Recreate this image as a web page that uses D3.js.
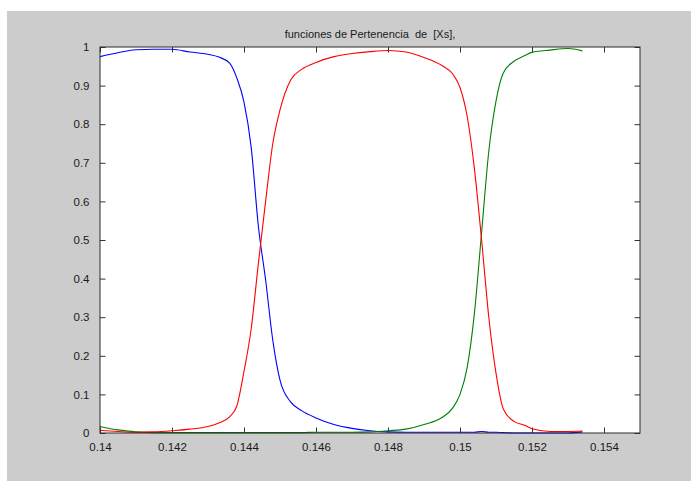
<!DOCTYPE html>
<html>
<head>
<meta charset="utf-8">
<script src="https://cdn.jsdelivr.net/npm/d3@7"></script>
<style>
  html, body { margin: 0; padding: 0; background: #ffffff; }
  svg { display: block; }
  .tick text { font-family: "Liberation Sans", Arial, sans-serif; font-size: 11.5px; fill: #1a1a1a; }
</style>
</head>
<body>
<svg id="chart" width="691" height="481"></svg>
<script>
// Membership functions sampled over Xs
const xs = [0.140, 0.1405, 0.141, 0.1415, 0.142, 0.1425, 0.143, 0.1433, 0.1436, 0.1438,
            0.144, 0.1442, 0.1444, 0.1446, 0.1448, 0.145, 0.1453, 0.1456, 0.146, 0.1465,
            0.147, 0.1475, 0.148, 0.1485, 0.149, 0.1495, 0.1498, 0.150, 0.1502, 0.1504,
            0.1506, 0.1508, 0.151, 0.1512, 0.1515, 0.1518, 0.152, 0.1525, 0.153, 0.1534];

const blue = [0.975, 0.985, 0.993, 0.994, 0.994, 0.987, 0.981, 0.974, 0.958, 0.920,
              0.857, 0.740, 0.535, 0.397, 0.240, 0.137, 0.080, 0.058, 0.039, 0.022,
              0.012, 0.006, 0.003, 0.002, 0.002, 0.002, 0.002, 0.002, 0.002, 0.002,
              0.004, 0.002, 0.002, 0.001, 0.000, 0.000, 0.000, 0.000, 0.000, 0.003];

const green = [0.017, 0.008, 0.003, 0.001, 0.001, 0.001, 0.001, 0.001, 0.001, 0.001,
               0.001, 0.001, 0.001, 0.001, 0.001, 0.001, 0.001, 0.001, 0.002, 0.002,
               0.002, 0.003, 0.006, 0.010, 0.022, 0.040, 0.065, 0.100, 0.170, 0.310,
               0.520, 0.730, 0.860, 0.932, 0.963, 0.978, 0.986, 0.992, 0.996, 0.990];

const red = [0.007, 0.004, 0.002, 0.003, 0.006, 0.010, 0.017, 0.026, 0.042, 0.070,
             0.160, 0.270, 0.440, 0.600, 0.750, 0.837, 0.915, 0.942, 0.960, 0.975,
             0.983, 0.988, 0.991, 0.987, 0.973, 0.952, 0.930, 0.895, 0.820, 0.685,
             0.500, 0.300, 0.155, 0.063, 0.030, 0.020, 0.011, 0.004, 0.004, 0.005];

const xTicks = [0.14, 0.142, 0.144, 0.146, 0.148, 0.15, 0.152, 0.154];
const yTicks = [0, 0.1, 0.2, 0.3, 0.4, 0.5, 0.6, 0.7, 0.8, 0.9, 1];
const titleText = "funciones de Pertenencia  de  [Xs],";

const series = [
  { name: "b", values: blue,  color: "#0000ff" },
  { name: "g", values: green, color: "#008000" },
  { name: "r", values: red,   color: "#ff0000" }
];

const svg = d3.select("#chart");
const W = 691, H = 481;
const margin = { left: 100, top: 47, right: 51, bottom: 48 };
const pw = W - margin.left - margin.right;
const ph = H - margin.top - margin.bottom;

// figure background
svg.append("rect").attr("x", 7).attr("y", 11).attr("width", W - 7).attr("height", H - 11)
   .attr("fill", "#cccccc");

const g = svg.append("g").attr("transform", `translate(${margin.left},${margin.top})`);

const x = d3.scaleLinear().domain([0.14, 0.155]).range([0, pw]);
const y = d3.scaleLinear().domain([0, 1]).range([ph, 0]);

g.append("rect").attr("width", pw).attr("height", ph).attr("fill", "#ffffff");

const fmt = d => String(+d.toFixed(4));
const tk = 5.5;

const styleAxis = sel => {
  sel.select(".domain").remove();
  sel.selectAll(".tick line").attr("stroke", "#333333");
};

g.append("g").attr("transform", `translate(0,${ph})`)
  .call(d3.axisBottom(x).tickValues(xTicks).tickFormat(fmt).tickSize(-tk).tickPadding(tk + 4))
  .call(styleAxis);
g.append("g")
  .call(d3.axisTop(x).tickValues(xTicks).tickFormat("").tickSize(-tk))
  .call(styleAxis);
g.append("g")
  .call(d3.axisLeft(y).tickValues(yTicks).tickFormat(fmt).tickSize(-tk).tickPadding(tk + 5))
  .call(styleAxis);
g.append("g").attr("transform", `translate(${pw},0)`)
  .call(d3.axisRight(y).tickValues(yTicks).tickFormat("").tickSize(-tk))
  .call(styleAxis);

// curves
const line = d3.line().x((d, i) => x(xs[i])).y(d => y(d)).curve(d3.curveMonotoneX);
g.selectAll("path.curve").data(series).join("path")
  .attr("class", "curve")
  .attr("d", s => line(s.values))
  .attr("fill", "none")
  .attr("stroke", s => s.color)
  .attr("stroke-width", 1.1);

// axes box
g.append("rect").attr("width", pw).attr("height", ph)
  .attr("fill", "none").attr("stroke", "#2a2a2a").attr("stroke-width", 1);

// title
svg.append("text")
  .attr("x", margin.left + pw / 2).attr("y", 38)
  .attr("text-anchor", "middle")
  .style("white-space", "pre")
  .attr("font-family", "'Liberation Sans', Arial, sans-serif")
  .attr("font-size", "11px")
  .attr("fill", "#1a1a1a")
  .text(titleText);
</script>
</body>
</html>
